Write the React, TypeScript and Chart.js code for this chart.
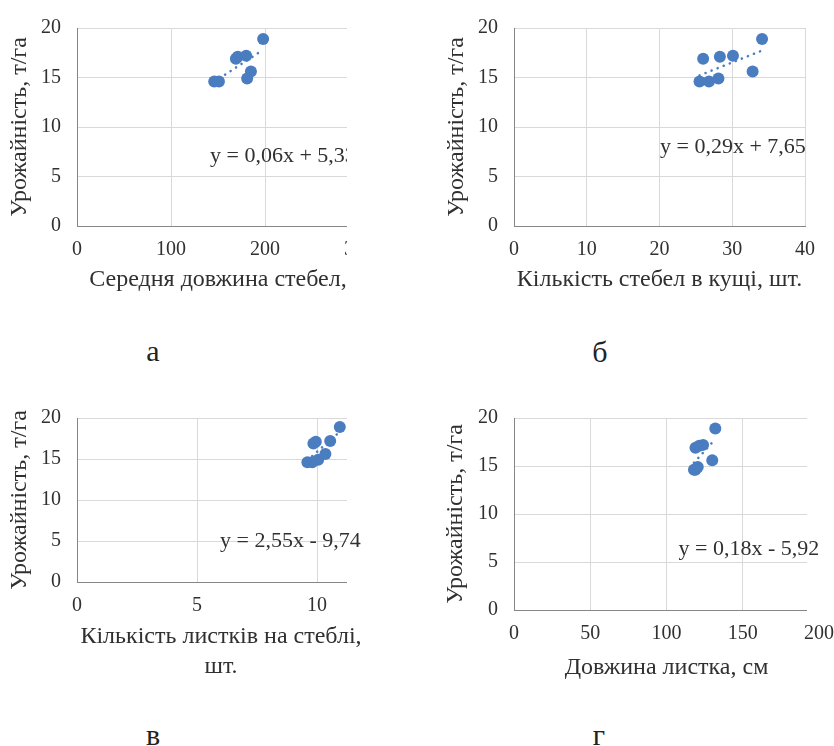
import React, { useEffect, useRef } from "react";
import { Chart, registerables } from "chart.js";

Chart.register(...registerables);

// ---- data ----
const yieldValues = [14.6, 14.6, 14.9, 15.6, 16.9, 17.1, 17.2, 18.9];
const stemLength = [146, 151, 181, 185, 169, 171, 180, 198];
const stemCount = [25.5, 26.8, 28.1, 32.8, 26.0, 28.3, 30.1, 34.1];
const leafCount = [9.6, 9.8, 10.05, 10.35, 9.85, 9.95, 10.55, 10.95];
const leafLength = [118, 119, 120.5, 130, 119, 121.5, 124, 132];

const yTicks = [0, 5, 10, 15, 20];
const xTicksA = [0, 100, 200, 300];
const xTicksB = [0, 10, 20, 30, 40];
const xTicksC = [0, 5, 10];
const xTicksD = [0, 50, 100, 150, 200];

const yTitle = "Урожайність, т/га";
const xTitleA = "Середня довжина стебел,";
const xTitleB = "Кількість стебел в кущі, шт.";
const xTitleC = ["Кількість листків на стеблі,", "шт."];
const xTitleD = "Довжина листка, см";

const equations = ["y = 0,06x + 5,33", "y = 0,29x + 7,65", "y = 2,55x - 9,74", "y = 0,18x - 5,92"];
const captions = ["а", "б", "в", "г"];

// ---- styling ----
const FONT = "'Liberation Serif', 'Times New Roman', serif";
const TEXT = "#303030";
const BLUE = "#4A7DC0";
const GRID = "#d9d9d9";
const AXIS = "#868686";

function fitLine(xs: number[], ys: number[]) {
  const n = xs.length;
  const mx = xs.reduce((a, b) => a + b, 0) / n;
  const my = ys.reduce((a, b) => a + b, 0) / n;
  let sxy = 0, sxx = 0;
  for (let i = 0; i < n; i++) {
    sxy += (xs[i] - mx) * (ys[i] - my);
    sxx += (xs[i] - mx) * (xs[i] - mx);
  }
  const slope = sxy / sxx;
  return { slope, intercept: my - slope * mx };
}

type PanelProps = {
  xs: number[];
  ys: number[];
  xMax: number;
  xTicks: number[];
  xTitle: string | string[];
  equation: string;
  eqAt: [number, number];
  left: number;
  top: number;
  width: number;
  height: number;
  padTop: number;
  padRight: number;
  yAxisW: number;
  xAxisH: number;
  yTitlePad: number;
  xTitlePad: number;
  xTitleLH: number;
  cutAt?: number;
  clipW?: number;
};

function ScatterPanel(p: PanelProps) {
  const ref = useRef<HTMLCanvasElement>(null);
  useEffect(() => {
    const canvas = ref.current!;
    const pts = p.xs.map((x, i) => ({ x, y: p.ys[i] }));
    const { slope, intercept } = fitLine(p.xs, p.ys);
    const minX = Math.min(...p.xs);
    const maxX = Math.max(...p.xs);
    const trend = [
      { x: minX, y: slope * minX + intercept },
      { x: maxX, y: slope * maxX + intercept },
    ];
    const extras = {
      id: "panelExtras",
      beforeDraw(chart: any) {
        if (p.cutAt == null) return;
        const { ctx, chartArea, width, height } = chart;
        ctx.save();
        ctx.beginPath();
        ctx.rect(0, 0, width, height);
        ctx.rect(p.cutAt, chartArea.top - 3, chartArea.right - p.cutAt + 4, chartArea.bottom - chartArea.top + 6);
        ctx.clip("evenodd");
      },
      afterDraw(chart: any) {
        const ctx = chart.ctx;
        if (p.cutAt != null) ctx.restore();
        ctx.save();
        ctx.font = `22px ${FONT}`;
        ctx.fillStyle = TEXT;
        ctx.textAlign = "left";
        ctx.textBaseline = "alphabetic";
        ctx.fillText(
          p.equation,
          chart.scales.x.getPixelForValue(p.eqAt[0]),
          chart.scales.y.getPixelForValue(p.eqAt[1])
        );
        ctx.restore();
      },
    };
    const gridColor = (c: any) => (c.tick && c.tick.value === 0 ? "rgba(0,0,0,0)" : GRID);
    const chart = new Chart(canvas, {
      type: "scatter",
      data: {
        datasets: [
          {
            data: trend,
            showLine: true,
            borderColor: BLUE,
            borderWidth: 2.6,
            borderDash: [0.01, 6.5],
            borderCapStyle: "round",
            pointRadius: 0,
            fill: false,
          } as any,
          {
            data: pts,
            backgroundColor: BLUE,
            borderWidth: 0,
            pointRadius: 6,
            pointHoverRadius: 6,
          },
        ],
      },
      options: {
        animation: false,
        responsive: false,
        devicePixelRatio: 1,
        events: [],
        layout: { padding: { left: 0, top: p.padTop, right: p.padRight, bottom: 0 } },
        plugins: { legend: { display: false }, tooltip: { enabled: false } },
        scales: {
          x: {
            type: "linear",
            min: 0,
            max: p.xMax,
            afterBuildTicks: (s: any) => {
              s.ticks = p.xTicks.map((v) => ({ value: v }));
            },
            afterFit: (s: any) => {
              s.height = p.xAxisH;
            },
            grid: { color: gridColor, lineWidth: 1, drawTicks: false },
            border: { display: true, color: AXIS, width: 1 },
            ticks: { font: { family: FONT, size: 20 }, color: TEXT, padding: 12, maxRotation: 0 },
            title: {
              display: true,
              text: p.xTitle as any,
              color: TEXT,
              font: { family: FONT, size: 24, lineHeight: p.xTitleLH },
              padding: { top: 0, bottom: p.xTitlePad },
            },
          },
          y: {
            type: "linear",
            min: 0,
            max: 20,
            afterBuildTicks: (s: any) => {
              s.ticks = yTicks.map((v) => ({ value: v }));
            },
            afterFit: (s: any) => {
              s.width = p.yAxisW;
            },
            grid: { color: gridColor, lineWidth: 1, drawTicks: false },
            border: { display: true, color: AXIS, width: 1 },
            ticks: { font: { family: FONT, size: 20 }, color: TEXT, padding: 16 },
            title: {
              display: true,
              text: yTitle,
              color: TEXT,
              font: { family: FONT, size: 24, lineHeight: 1.2 },
              padding: { top: p.yTitlePad, bottom: 0 },
            },
          },
        },
      },
      plugins: [extras as any],
    });
    return () => chart.destroy();
  }, []);

  return (
    <div
      style={{
        position: "absolute",
        left: p.left,
        top: p.top,
        width: p.clipW ?? p.width,
        height: p.height,
        overflow: "hidden",
      }}
    >
      <canvas
        ref={ref}
        width={p.width}
        height={p.height}
        style={{ position: "absolute", left: 0, top: 0, width: p.width, height: p.height }}
      />
    </div>
  );
}

function Caption({ text, x, top }: { text: string; x: number; top: number }) {
  return (
    <span
      style={{
        position: "absolute",
        left: x,
        top,
        transform: "translateX(-50%)",
        fontFamily: FONT,
        fontSize: 30,
        lineHeight: "30px",
        color: "#222",
        whiteSpace: "nowrap",
      }}
    >
      {text}
    </span>
  );
}

export default function App() {
  return (
    <div
      style={{
        position: "absolute",
        left: 0,
        top: 0,
        width: 834,
        height: 746,
        overflow: "hidden",
        background: "#fff",
      }}
    >
      <ScatterPanel
        xs={stemLength}
        ys={yieldValues}
        xMax={300}
        xTicks={xTicksA}
        xTitle={xTitleA}
        equation={equations[0]}
        eqAt={[141.5, 6.5]}
        left={0}
        top={0}
        width={420}
        height={300}
        padTop={23}
        padRight={61}
        yAxisW={77}
        xAxisH={74}
        yTitlePad={5.4}
        xTitlePad={5.8}
        xTitleLH={1.2}
        clipW={347}
      />
      <ScatterPanel
        xs={stemCount}
        ys={yieldValues}
        xMax={40}
        xTicks={xTicksB}
        xTitle={xTitleB}
        equation={equations[1]}
        eqAt={[20.07, 7.33]}
        left={430}
        top={0}
        width={404}
        height={300}
        padTop={23}
        padRight={29}
        yAxisW={84}
        xAxisH={74}
        yTitlePad={12}
        xTitlePad={5.8}
        xTitleLH={1.2}
      />
      <ScatterPanel
        xs={leafCount}
        ys={yieldValues}
        xMax={12}
        xTicks={xTicksC}
        xTitle={xTitleC}
        equation={equations[2]}
        eqAt={[5.96, 4.24]}
        left={0}
        top={390}
        width={420}
        height={300}
        padTop={17}
        padRight={55}
        yAxisW={77}
        xAxisH={108}
        yTitlePad={5.4}
        xTitlePad={7.7}
        xTitleLH={1.28}
        cutAt={347}
      />
      <ScatterPanel
        xs={leafLength}
        ys={yieldValues}
        xMax={200}
        xTicks={xTicksD}
        xTitle={xTitleD}
        equation={equations[3]}
        eqAt={[107.9, 5.75]}
        left={430}
        top={390}
        width={420}
        height={300}
        padTop={17}
        padRight={31}
        yAxisW={84}
        xAxisH={80}
        yTitlePad={11.2}
        xTitlePad={7.8}
        xTitleLH={1.2}
        cutAt={377}
      />
      <Caption text={captions[0]} x={153} top={336} />
      <Caption text={captions[1]} x={600} top={337} />
      <Caption text={captions[2]} x={153} top={720} />
      <Caption text={captions[3]} x={599} top={720} />
    </div>
  );
}
